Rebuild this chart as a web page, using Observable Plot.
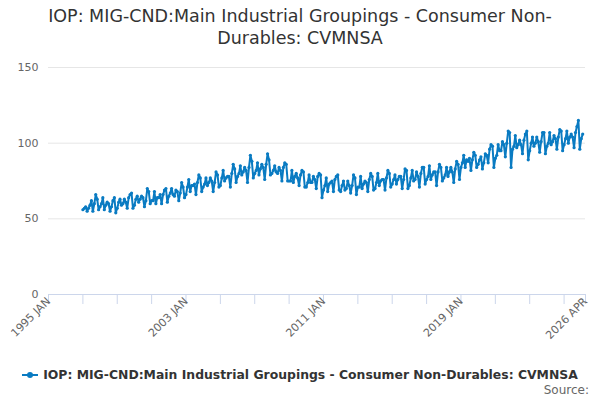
<!DOCTYPE html>
<html>
<head>
<meta charset="utf-8">
<script src="https://cdn.jsdelivr.net/npm/d3@7"></script>
<script src="https://cdn.jsdelivr.net/npm/@observablehq/plot@0.6"></script>
<style>
  body { margin: 0; background: #fff; font-family: "DejaVu Sans", "Open Sans", sans-serif; }
  #wrap { position: relative; width: 600px; height: 400px; overflow: hidden; }
  #title { position: absolute; top: 5px; left: 0; width: 600px; text-align: center; font-size: 17.5px; line-height: 22px; color: #333; }
  #chart { position: absolute; top: 50px; left: 0; }
  #legend { position: absolute; top: 367px; left: 0; width: 600px; text-align: center; font-size: 12.4px; font-weight: bold; color: #333; }
  #legend .sym { display: inline-block; position: relative; width: 16px; height: 10px; margin-right: 5px; vertical-align: middle; top: -1px; }
  #legend .sym:before { content: ""; position: absolute; left: 0; right: 0; top: 4px; height: 2px; background: #0a7bc2; }
  #legend .sym:after { content: ""; position: absolute; left: 5px; top: 2px; width: 6px; height: 6px; border-radius: 3px; background: #0a7bc2; }
  #source { position: absolute; top: 383px; right: 11px; font-size: 12px; color: #666; }
</style>
</head>
<body>
<div id="wrap">
  <div id="title">IOP: MIG-CND:Main Industrial Groupings - Consumer Non-<br>Durables: CVMNSA</div>
  <div id="chart"></div>
  <div id="legend"><span class="sym"></span>IOP: MIG-CND:Main Industrial Groupings - Consumer Non-Durables: CVMNSA</div>
  <div id="source">Source:</div>
</div>
<script>
const seriesName = "IOP: MIG-CND:Main Industrial Groupings - Consumer Non-Durables: CVMNSA";
const startYear = 1997;
// monthly values, Jan..Dec per row
const v1997 = [56, 57, 58, 55, 57, 59, 62, 55, 60, 66, 63, 56];
const v1998 = [58, 60, 64, 56, 59, 61, 60, 55, 58, 62, 64, 54];
const v1999 = [57, 61, 63, 59, 60, 63, 61, 57, 64, 66, 67, 57];
const v2000 = [59, 63, 65, 61, 63, 65, 64, 58, 62, 70, 68, 60];
const v2001 = [62, 62, 68, 60, 64, 64, 66, 60, 66, 69, 70, 61];
const v2002 = [65, 67, 70, 66, 65, 69, 68, 62, 67, 74, 71, 64];
const v2003 = [66, 71, 76, 68, 72, 72, 73, 66, 74, 79, 77, 68];
const v2004 = [71, 73, 77, 72, 74, 77, 75, 68, 74, 81, 79, 71];
const v2005 = [72, 77, 82, 75, 77, 78, 78, 71, 80, 86, 83, 74];
const v2006 = [78, 80, 85, 79, 81, 84, 82, 74, 84, 92, 88, 77];
const v2007 = [80, 82, 87, 79, 83, 86, 84, 76, 86, 93, 89, 79];
const v2008 = [80, 82, 85, 81, 80, 84, 82, 75, 84, 87, 86, 75];
const v2009 = [75, 75, 82, 74, 78, 80, 77, 72, 79, 82, 81, 71];
const v2010 = [71, 74, 79, 74, 74, 78, 76, 70, 78, 80, 79, 64];
const v2011 = [69, 72, 77, 68, 73, 74, 75, 68, 76, 78, 79, 69];
const v2012 = [68, 72, 75, 69, 70, 75, 72, 67, 72, 79, 77, 66];
const v2013 = [71, 71, 78, 70, 73, 75, 74, 68, 76, 80, 78, 69];
const v2014 = [70, 74, 80, 72, 75, 76, 76, 69, 77, 82, 80, 71];
const v2015 = [73, 76, 79, 73, 76, 78, 78, 70, 76, 83, 82, 70];
const v2016 = [72, 77, 82, 75, 76, 81, 78, 71, 80, 84, 84, 73];
const v2017 = [76, 78, 85, 76, 79, 81, 81, 72, 81, 86, 84, 75];
const v2018 = [77, 79, 84, 78, 81, 84, 81, 74, 83, 88, 86, 76];
const v2019 = [84, 87, 92, 84, 89, 88, 90, 82, 89, 94, 92, 84];
const v2020 = [86, 89, 91, 83, 87, 93, 92, 87, 96, 99, 98, 84];
const v2021 = [90, 92, 99, 95, 95, 101, 99, 91, 100, 108, 107, 84];
const v2022 = [96, 98, 105, 97, 99, 102, 99, 93, 102, 106, 108, 89];
const v2023 = [95, 100, 104, 98, 100, 104, 101, 94, 101, 107, 107, 93];
const v2024 = [98, 100, 107, 99, 101, 105, 103, 96, 104, 109, 108, 95];
const v2025 = [99, 103, 108, 100, 104, 106, 104, 97, 107, 111, 115, 96];
const v2026 = [103, 106];

const yearly = [v1997, v1998, v1999, v2000, v2001, v2002, v2003, v2004, v2005, v2006,
  v2007, v2008, v2009, v2010, v2011, v2012, v2013, v2014, v2015, v2016, v2017, v2018,
  v2019, v2020, v2021, v2022, v2023, v2024, v2025, v2026];

const yTicks = [0, 50, 100, 150];
const tickYears = [1995, 1997, 1999, 2001, 2003, 2005, 2007, 2009, 2011, 2013, 2015, 2017, 2019, 2021, 2023, 2025];
const labelDates = ["1995-01-01", "2003-01-01", "2011-01-01", "2019-01-01", "2026-04-01"];
const labelTexts = ["1995 JAN", "2003 JAN", "2011 JAN", "2019 JAN", "2026 APR"];

const data = [];
yearly.forEach((arr, i) => arr.forEach((v, m) => data.push({date: new Date(Date.UTC(startYear + i, m, 1)), value: v})));

const tickDates = tickYears.map(y => new Date(Date.UTC(y, 0, 1))).concat([new Date(labelDates[4])]);
const labels = labelDates.map((d, i) => ({date: new Date(d), text: labelTexts[i]}));

const color = "#0a7bc2";
const chart = Plot.plot({
  width: 600,
  height: 310,
  marginLeft: 48,
  marginRight: 15,
  marginTop: 17,
  marginBottom: 66,
  style: {fontFamily: "DejaVu Sans, sans-serif", fontSize: "11px", color: "#666", background: "#fff"},
  x: {type: "utc", domain: [new Date("1995-01-01"), new Date("2026-04-01")]},
  y: {domain: [0, 150]},
  marks: [
    Plot.ruleY(yTicks.filter(d => d > 0), {stroke: "#e6e6e6", strokeWidth: 1}),
    Plot.ruleY([0], {stroke: "#ccd6eb", strokeWidth: 1}),
    Plot.axisY({ticks: yTicks, tickSize: 0, tickPadding: 10, label: null, fill: "#666", fontSize: 11}),
    Plot.axisX({ticks: tickDates, tickSize: 10, tickFormat: () => "", stroke: "#ccd6eb", label: null}),
    Plot.text(labels, {x: "date", frameAnchor: "bottom", text: "text", rotate: -45, textAnchor: "end",
      dy: 5, dx: 0, fill: "#666", fontSize: 11, lineAnchor: "middle"}),
    Plot.line(data, {x: "date", y: "value", stroke: color, strokeWidth: 2}),
    Plot.dot(data, {x: "date", y: "value", fill: color, r: 1.6, stroke: "none"})
  ]
});
document.getElementById("chart").appendChild(chart);
</script>
</body>
</html>
